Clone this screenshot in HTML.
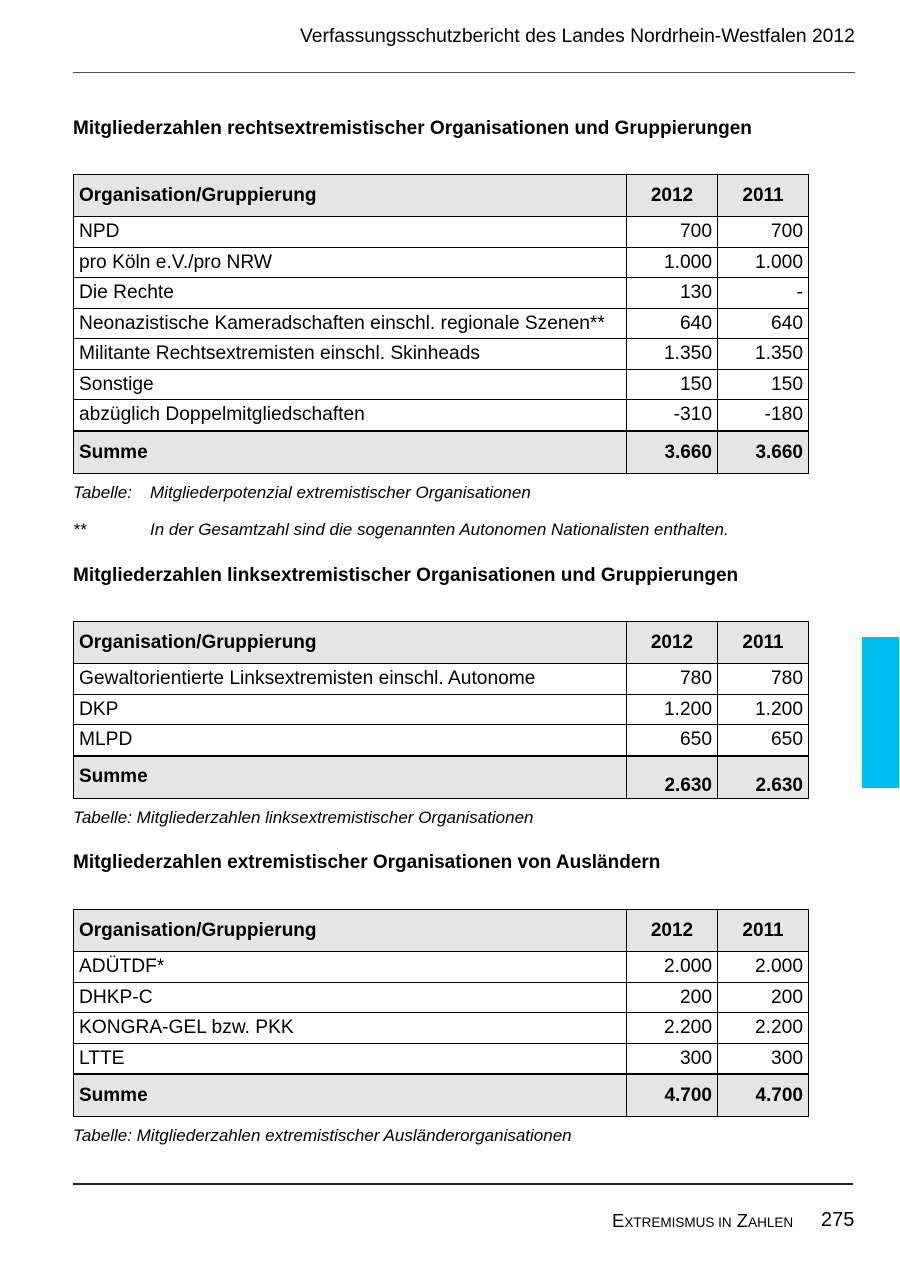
<!DOCTYPE html>
<html><head><meta charset="utf-8"><style>
body{margin:0;width:900px;height:1276px;background:#fff;font-family:"Liberation Sans",Arial,sans-serif;color:#000;position:relative;overflow:hidden}
.a{position:absolute;white-space:nowrap}
table{position:absolute;left:73px;width:735px;border-collapse:collapse;font-size:19.2px;table-layout:fixed;border:1.5px solid #000}
td{border:1px solid #000;padding:0 5px;height:29.5px;vertical-align:middle;line-height:1;overflow:hidden;white-space:nowrap}
td.n{text-align:right}
tr.h td{background:#e5e5e5;font-weight:bold;height:41px;font-size:19px}
tr.h td.c{text-align:center}
tr.s td{background:#e5e5e5;font-weight:bold;height:41px;border-top:2px solid #000;font-size:19px}
.t{font-weight:bold;font-size:19px}
.cap{font-style:italic;font-size:17px}
</style></head><body>
<div class="a" style="left:300px;top:26px;font-size:19.3px">Verfassungsschutzbericht des Landes Nordrhein-Westfalen 2012</div>
<div class="a" style="left:73px;top:72px;width:782px;height:1px;background:#555"></div>

<div class="a t" style="left:73px;top:118px">Mitgliederzahlen rechtsextremistischer Organisationen und Gruppierungen</div>
<table style="top:174px">
<colgroup><col style="width:553px"><col style="width:91px"><col style="width:91px"></colgroup>
<tr class="h"><td>Organisation/Gruppierung</td><td class="c">2012</td><td class="c">2011</td></tr>
<tr><td>NPD</td><td class="n">700</td><td class="n">700</td></tr>
<tr><td>pro Köln e.V./pro NRW</td><td class="n">1.000</td><td class="n">1.000</td></tr>
<tr><td>Die Rechte</td><td class="n">130</td><td class="n">-</td></tr>
<tr><td>Neonazistische Kameradschaften einschl. regionale Szenen**</td><td class="n">640</td><td class="n">640</td></tr>
<tr><td>Militante Rechtsextremisten einschl. Skinheads</td><td class="n">1.350</td><td class="n">1.350</td></tr>
<tr><td>Sonstige</td><td class="n">150</td><td class="n">150</td></tr>
<tr><td>abzüglich Doppelmitgliedschaften</td><td class="n">-310</td><td class="n">-180</td></tr>
<tr class="s"><td>Summe</td><td class="n">3.660</td><td class="n">3.660</td></tr>
</table>
<div class="a cap" style="left:73px;top:483px">Tabelle:</div>
<div class="a cap" style="left:150px;top:483px">Mitgliederpotenzial extremistischer Organisationen</div>
<div class="a cap" style="left:73px;top:520px">**</div>
<div class="a cap" style="left:150px;top:520px">In der Gesamtzahl sind die sogenannten Autonomen Nationalisten enthalten.</div>

<div class="a t" style="left:73px;top:565px">Mitgliederzahlen linksextremistischer Organisationen und Gruppierungen</div>
<table style="top:621px">
<colgroup><col style="width:553px"><col style="width:91px"><col style="width:91px"></colgroup>
<tr class="h"><td>Organisation/Gruppierung</td><td class="c">2012</td><td class="c">2011</td></tr>
<tr><td>Gewaltorientierte Linksextremisten einschl. Autonome</td><td class="n">780</td><td class="n">780</td></tr>
<tr><td>DKP</td><td class="n">1.200</td><td class="n">1.200</td></tr>
<tr><td>MLPD</td><td class="n">650</td><td class="n">650</td></tr>
<tr class="s"><td style="position:relative"><span style="position:absolute;left:5px;top:10px">Summe</span></td><td class="n" style="position:relative"><span style="position:absolute;right:5px;top:19px">2.630</span></td><td class="n" style="position:relative"><span style="position:absolute;right:5px;top:19px">2.630</span></td></tr>
</table>
<div class="a cap" style="left:73px;top:808px">Tabelle: Mitgliederzahlen linksextremistischer Organisationen</div>

<div class="a t" style="left:73px;top:852px">Mitgliederzahlen extremistischer Organisationen von Ausländern</div>
<table style="top:909px">
<colgroup><col style="width:553px"><col style="width:91px"><col style="width:91px"></colgroup>
<tr class="h"><td>Organisation/Gruppierung</td><td class="c">2012</td><td class="c">2011</td></tr>
<tr><td>ADÜTDF*</td><td class="n">2.000</td><td class="n">2.000</td></tr>
<tr><td>DHKP-C</td><td class="n">200</td><td class="n">200</td></tr>
<tr><td>KONGRA-GEL bzw. PKK</td><td class="n">2.200</td><td class="n">2.200</td></tr>
<tr><td>LTTE</td><td class="n">300</td><td class="n">300</td></tr>
<tr class="s"><td>Summe</td><td class="n">4.700</td><td class="n">4.700</td></tr>
</table>
<div class="a cap" style="left:73px;top:1126px">Tabelle: Mitgliederzahlen extremistischer Ausländerorganisationen</div>

<div class="a" style="left:862px;top:637px;width:37px;height:151px;background:#00bdf2"></div>
<div class="a" style="left:73px;top:1183px;width:780px;height:2px;background:#222"></div>
<div class="a" style="left:612px;top:1210px;font-size:18.5px">E<span style="font-size:13.5px">XTREMISMUS IN</span> Z<span style="font-size:13.5px">AHLEN</span></div>
<div class="a" style="left:821px;top:1209px;font-size:20px">275</div>
</body></html>
